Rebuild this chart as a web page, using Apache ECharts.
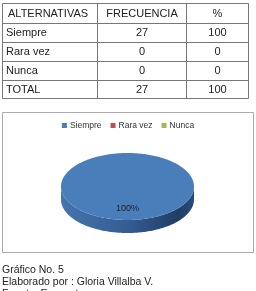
<!DOCTYPE html>
<html><head><meta charset="utf-8">
<script src="https://cdn.jsdelivr.net/npm/echarts@6/dist/echarts.min.js"></script>
<style>html,body{margin:0;padding:0;background:#fff}#c{width:256px;height:291px}</style>
</head><body><div id="c"></div>
<script>
const headers = ['ALTERNATIVAS', 'FRECUENCIA', '%'];
const categories = ['Siempre', 'Rara vez', 'Nunca'];
const frequency = [27, 0, 0];
const percent = [100, 0, 0];
const totalLabel = 'TOTAL';
const totalFrequency = 27;
const totalPercent = 100;
const footer = ['Gráfico No. 5', 'Elaborado por : Gloria Villalba V.', 'Fuente: Encuesta'];
const colors = ['#4a7ebb', '#c0504d', '#9bbb59'];
const sideColors = [['#4674ad', '#345d93', '#203d66', '#2a4c7a'], ['#b04a47', '#8f3a38', '#6e2a28', '#7d3230'], ['#8fae52', '#748f42', '#5a7033', '#64793a']];

const FONT = '"Liberation Sans", Arial, sans-serif';
const chart = echarts.init(document.getElementById('c'), null, {renderer: 'canvas'});

// table layout
const colX = [2.5, 97.5, 186.5, 248.5];
const rowY = [3.5, 23.5, 42.5, 61.5, 80.5, 98.5];
const rows = [headers].concat(categories.map((c, i) => [c, String(frequency[i]), String(percent[i])]))
  .concat([[totalLabel, String(totalFrequency), String(totalPercent)]]);
const graphic = [];
const lineStyle = {stroke: '#777', lineWidth: 1};
rowY.forEach(y => graphic.push({type: 'line', shape: {x1: colX[0], y1: y, x2: colX[3], y2: y}, style: lineStyle}));
colX.forEach(x => graphic.push({type: 'line', shape: {x1: x, y1: rowY[0], x2: x, y2: rowY[rowY.length - 1]}, style: lineStyle}));
rows.forEach((r, ri) => {
  const cy = (rowY[ri] + rowY[ri + 1]) / 2;
  r.forEach((t, ci) => {
    const left = ci === 0;
    graphic.push({type: 'text', style: {
      text: t, x: left ? (ri === 0 ? 8 : 6) : (colX[ci] + colX[ci + 1]) / 2, y: cy,
      fill: '#222', font: '11px ' + FONT, textAlign: left ? 'left' : 'center', textVerticalAlign: 'middle'}});
  });
});
// chart box
graphic.push({type: 'rect', shape: {x: 2.5, y: 112.5, width: 251, height: 140}, style: {fill: 'none', stroke: '#aaa', lineWidth: 1}, z: -1});
footer.forEach((t, i) => graphic.push({type: 'text', style: {text: t, x: 2, y: 270 + i * 12, fill: '#222', font: '10.5px ' + FONT, textAlign: 'left', textVerticalAlign: 'middle'}}));

// pie geometry
const PCX = 127.5, PCY = 186.5, RX = 66.5, RY = 33.5, DEPTH = 13;
const total = frequency.reduce((a, b) => a + b, 0);
const starts = [];
let acc = 0;
frequency.forEach(v => { starts.push(acc); acc += v; });
function pt(a, dy) { // a in radians clockwise from 12 o'clock
  return [PCX + RX * Math.sin(a), PCY - RY * Math.cos(a) + (dy || 0)];
}
function arcPts(a0, a1, dy) {
  const n = Math.max(2, Math.ceil(Math.abs(a1 - a0) / 0.02));
  const p = [];
  for (let k = 0; k <= n; k++) p.push(pt(a0 + (a1 - a0) * k / n, dy));
  return p;
}
function renderSlice(si) {
  return function (params, api) {
    const v = frequency[si];
    if (!v) return {type: 'group', children: []};
    const a0 = starts[si] / total * 2 * Math.PI;
    const a1 = (starts[si] + v) / total * 2 * Math.PI;
    const children = [];
    const f0 = Math.max(a0, Math.PI / 2), f1 = Math.min(a1, 3 * Math.PI / 2);
    if (f1 > f0) {
      const top = arcPts(f0, f1, 0);
      const bot = arcPts(f1, f0, DEPTH);
      const sc = sideColors[si];
      children.push({type: 'polygon', shape: {points: top.concat(bot)}, style: {
        fill: new echarts.graphic.LinearGradient(0, 0, 1, 0, [
          {offset: 0, color: sc[0]}, {offset: 0.5, color: sc[1]}, {offset: 0.88, color: sc[2]}, {offset: 1, color: sc[3]}])}});
    }
    let facePts = arcPts(a0, a1, 0);
    if (a1 - a0 < 2 * Math.PI - 1e-6) facePts = [[PCX, PCY]].concat(facePts);
    children.push({type: 'polygon', shape: {points: facePts}, style: {fill: colors[si]}});
    const am = (a0 + a1) / 2;
    const lp = [PCX + RX * 0.65 * Math.sin(am), PCY - RY * 0.65 * Math.cos(am)];
    children.push({type: 'text', style: {text: Math.round(v / total * 100) + '%', x: lp[0], y: lp[1],
      fill: '#222', font: '9px ' + FONT, textAlign: 'center', textVerticalAlign: 'middle'}});
    return {type: 'group', children: children};
  };
}

chart.setOption({
  animation: false,
  color: colors,
  legend: {
    data: categories, top: 116, left: 'center', itemWidth: 5, itemHeight: 5, itemGap: 9,
    icon: 'rect', textStyle: {fontSize: 8.5, color: '#333', fontFamily: FONT, padding: [0, 0, 0, -2]}
  },
  graphic: graphic,
  series: categories.map((c, i) => ({
    type: 'custom', name: c, coordinateSystem: 'none', itemStyle: {color: colors[i]},
    data: [[frequency[i]]], renderItem: renderSlice(i)
  }))
});
</script></body></html>
